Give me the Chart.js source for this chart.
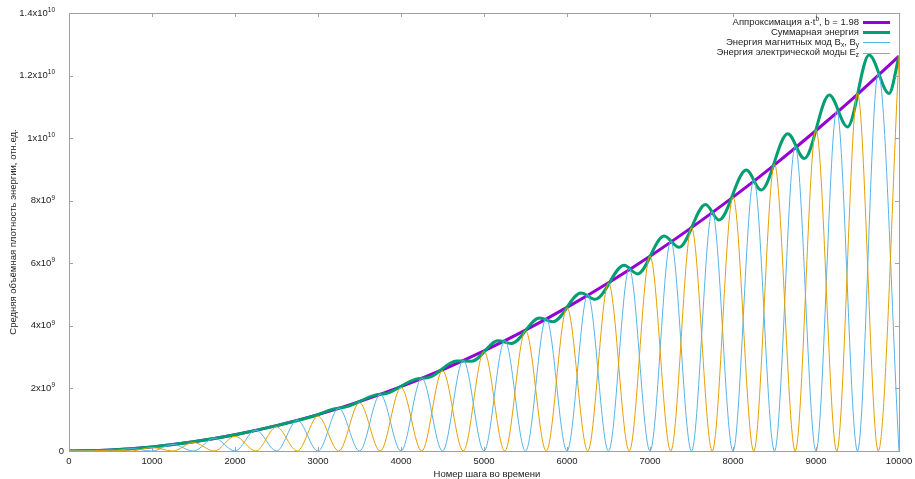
<!DOCTYPE html>
<html>
<head>
<meta charset="utf-8">
<script src="https://cdn.jsdelivr.net/npm/chart.js@4.4.1/dist/chart.umd.min.js"></script>
<style>
  html, body { margin: 0; padding: 0; background: #fff; }
  #wrap { width: 915px; height: 479px; }
</style>
</head>
<body>
<div id="wrap"><canvas id="energyChart" width="915" height="479"></canvas></div>
<script>
const FONT = '"Liberation Sans", Arial, sans-serif';
const FS = 9.5;   // main text size
const FS_SMALL = 6.5; // sub / superscripts

// values are in units of 1e9
const fitSteps = [0, 500, 1000, 1500, 2000, 2500, 3000, 3500, 4000, 4500, 5000,
  5500, 6000, 6500, 7000, 7500, 8000, 8500, 9000, 9500, 10000];
const fitValues = [0, 0.034, 0.132, 0.295, 0.521, 0.811, 1.164, 1.579, 2.057, 2.597, 3.199,
  3.864, 4.59, 5.378, 6.228, 7.139, 8.113, 9.148, 10.244, 11.401, 12.62];

const totalSteps = [0, 500, 1000, 1500, 2000, 2500, 3000, 3170, 3350, 3670, 3850,
  4170, 4350, 4670, 4850, 5170, 5330, 5670, 5830, 6170, 6340, 6690, 6850,
  7170, 7350, 7670, 7830, 8160, 8340, 8660, 8860, 9160, 9380, 9640, 9880, 10000];
const totalValues = [0, 0.034, 0.132, 0.295, 0.52, 0.81, 1.16, 1.33, 1.42, 1.77, 1.86,
  2.29, 2.36, 2.88, 2.87, 3.52, 3.44, 4.25, 4.13, 5.05, 4.85, 5.94, 5.66,
  6.87, 6.51, 7.88, 7.38, 8.98, 8.34, 10.14, 9.35, 11.38, 10.36, 12.66, 11.43, 12.62];

const waveSteps = [0, 250, 500, 750, 1000, 1250, 1500, 1750, 2000, 2250, 2500,
  2750, 3000, 3250, 3500, 3750, 4000, 4250, 4500, 4750, 5000,
  5250, 5500, 5750, 6000, 6250, 6500, 6750, 7000, 7250, 7500,
  7750, 8000, 8250, 8500, 8750, 9000, 9250, 9500, 9750, 10000];
const magValues = [0, 0.008, 0, 0.075, 0, 0.21, 0, 0.41, 0, 0.67, 0,
  0.98, 0, 1.37, 0, 1.81, 0, 2.33, 0, 2.9, 0,
  3.54, 0, 4.24, 0, 5.0, 0, 5.83, 0, 6.71, 0,
  7.66, 0, 8.67, 0, 9.74, 0, 10.88, 0, 12.08, 0];
const elValues = [0, 0, 0.03, 0, 0.11, 0, 0.27, 0, 0.47, 0, 0.77,
  0, 1.11, 0, 1.54, 0, 2.03, 0, 2.57, 0, 3.18,
  0, 3.85, 0, 4.58, 0, 5.37, 0, 6.23, 0, 7.14,
  0, 8.12, 0, 9.17, 0, 10.27, 0, 11.44, 0, 12.62];

const xTicks = [0, 1000, 2000, 3000, 4000, 5000, 6000, 7000, 8000, 9000, 10000];
const yTicks = [0, 2, 4, 6, 8, 10, 12, 14];
const yTickBase = ["0", "2x10", "4x10", "6x10", "8x10", "1x10", "1.2x10", "1.4x10"];
const yTickExp = ["", "9", "9", "9", "9", "10", "10", "10"];

const xTitle = "Номер шага во времени";
const yTitle = "Средняя объёмная плотность энергии, отн.ед.";

// legend rows: pieces of text with n / sup / sub
const legendRows = [
  { color: "#9400d3", width: 3, parts: [["Аппроксимация a·t", "n"], ["b", "sup"], [", b = 1.98", "n"]] },
  { color: "#009e73", width: 3, parts: [["Суммарная энергия", "n"]] },
  { color: "#56b4e9", width: 1, parts: [["Энергия магнитных мод B", "n"], ["x", "sub"], [", B", "n"], ["y", "sub"]] },
  { color: "#e69f00", width: 1, parts: [["Энергия электрической моды E", "n"], ["z", "sub"]] },
];

const pts = (xs, ys) => xs.map((x, i) => ({ x, y: ys[i] }));
const font = (mode) => `${mode === "n" ? FS : FS_SMALL}px ${FONT}`;

const framePlugin = {
  id: "frame",
  afterDraw(chart) {
    const ctx = chart.ctx;
    const { left, right, top, bottom } = chart.chartArea;
    const xs = chart.scales.x;
    const ys = chart.scales.y;
    ctx.save();

    // border + inward ticks
    ctx.strokeStyle = "#a0a0a0";
    ctx.lineWidth = 1;
    ctx.strokeRect(left + 0.5, top + 0.5, right - left, bottom - top);
    ctx.beginPath();
    xTicks.forEach((v) => {
      const px = Math.round(xs.getPixelForValue(v)) + 0.5;
      ctx.moveTo(px, bottom); ctx.lineTo(px, bottom - 4);
      ctx.moveTo(px, top); ctx.lineTo(px, top + 4);
    });
    yTicks.forEach((v) => {
      const py = Math.round(ys.getPixelForValue(v)) + 0.5;
      ctx.moveTo(left, py); ctx.lineTo(left + 4, py);
      ctx.moveTo(right, py); ctx.lineTo(right - 4, py);
    });
    ctx.stroke();

    // y tick labels with exponent
    ctx.fillStyle = "#222";
    ctx.textBaseline = "middle";
    yTicks.forEach((v, i) => {
      const py = ys.getPixelForValue(v);
      if (!yTickExp[i]) {
        ctx.font = font("n");
        ctx.textAlign = "right";
        ctx.fillText(yTickBase[i], 64, py);
        return;
      }
      ctx.font = font("sup");
      const ew = ctx.measureText(yTickExp[i]).width;
      ctx.textAlign = "left";
      ctx.fillText(yTickExp[i], 55 - ew, py - 3);
      ctx.font = font("n");
      ctx.textAlign = "right";
      ctx.fillText(yTickBase[i], 55 - ew, py);
    });

    // axis titles
    ctx.font = font("n");
    ctx.textAlign = "center";
    ctx.fillText(xTitle, 487, 474);
    ctx.save();
    ctx.translate(13, 232);
    ctx.rotate(-Math.PI / 2);
    ctx.fillText(yTitle, 0, 0);
    ctx.restore();

    // legend
    const textRight = 859;
    legendRows.forEach((row, r) => {
      const cy = 22 + r * 10.2;
      let total = 0;
      row.parts.forEach(([t, mode]) => {
        ctx.font = font(mode);
        total += ctx.measureText(t).width;
      });
      let x = textRight - total;
      ctx.textAlign = "left";
      row.parts.forEach(([t, mode]) => {
        ctx.font = font(mode);
        const dy = mode === "sup" ? -3 : mode === "sub" ? 2.5 : 0;
        ctx.fillText(t, x, cy + dy);
        x += ctx.measureText(t).width;
      });
      ctx.strokeStyle = row.color;
      ctx.lineWidth = row.width;
      const ly = Math.round(cy) + (row.width % 2 ? 0.5 : 0);
      ctx.beginPath();
      ctx.moveTo(863, ly);
      ctx.lineTo(890, ly);
      ctx.stroke();
    });

    ctx.restore();
  },
};

new Chart(document.getElementById("energyChart"), {
  type: "line",
  data: {
    datasets: [
      { label: "Energy Ez", data: pts(waveSteps, elValues), borderColor: "#e69f00", borderWidth: 1 },
      { label: "Energy Bx, By", data: pts(waveSteps, magValues), borderColor: "#56b4e9", borderWidth: 1 },
      { label: "Total", data: pts(totalSteps, totalValues), borderColor: "#009e73", borderWidth: 3 },
      { label: "Fit", data: pts(fitSteps, fitValues), borderColor: "#9400d3", borderWidth: 3 },
    ],
  },
  options: {
    responsive: false,
    animation: false,
    devicePixelRatio: 1,
    elements: {
      point: { radius: 0, hoverRadius: 0 },
      line: { cubicInterpolationMode: "monotone", fill: false },
    },
    layout: { padding: { top: 13, right: 16, left: 0, bottom: 0 } },
    plugins: {
      legend: { display: false },
      tooltip: { enabled: false },
    },
    scales: {
      x: {
        type: "linear",
        min: 0,
        max: 10000,
        afterFit: (s) => {
          s.height = 28;
          s.paddingLeft = 0;
          s.paddingRight = 0;
        },
        afterBuildTicks: (s) => { s.ticks = xTicks.map((v) => ({ value: v })); },
        ticks: {
          color: "#222",
          font: { family: FONT, size: FS },
          padding: 5,
          maxRotation: 0,
          autoSkip: false,
          callback: (v) => String(v),
        },
        grid: { display: false, drawTicks: false },
        border: { display: false },
      },
      y: {
        type: "linear",
        min: 0,
        max: 14,
        afterFit: (s) => {
          s.width = 69;
          s.paddingTop = 0;
          s.paddingBottom = 0;
        },
        ticks: { display: false },
        grid: { display: false, drawTicks: false },
        border: { display: false },
      },
    },
  },
  plugins: [framePlugin],
});
</script>
</body>
</html>
